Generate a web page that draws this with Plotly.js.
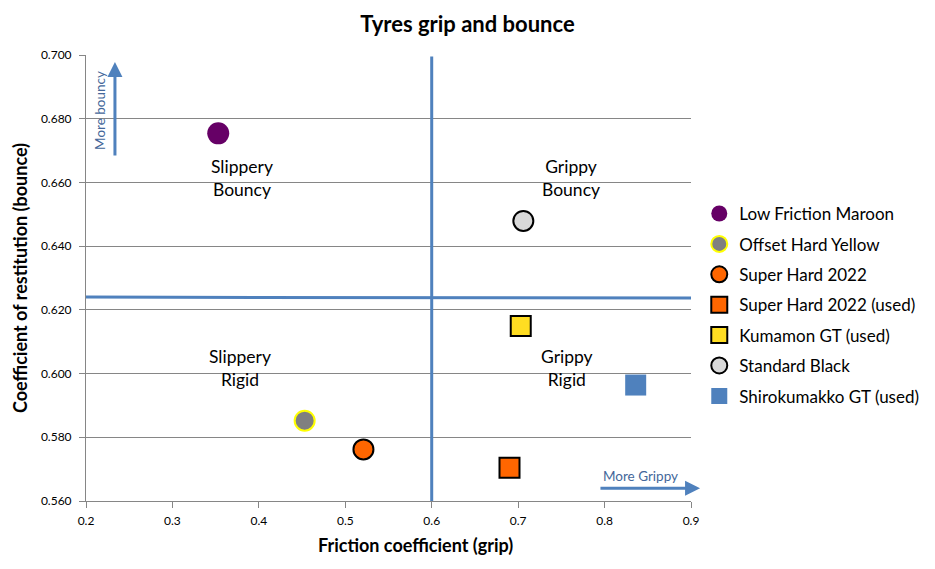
<!DOCTYPE html>
<html>
<head>
<meta charset="utf-8">
<script src="https://cdn.plot.ly/plotly-3.0.1.min.js"></script>
<style>html,body{margin:0;padding:0;background:#fff;}#chart{width:935px;height:569px;}</style>
</head>
<body>
<div id="chart"></div>
<script>
// Data
const seriesNames = ["Low Friction Maroon","Offset Hard Yellow","Super Hard 2022","Super Hard 2022 (used)","Kumamon GT (used)","Standard Black","Shirokumakko GT (used)"];
const frictionValues = [0.353, 0.453, 0.521, 0.690, 0.703, 0.706, 0.836];
const bounceValues = [0.6754, 0.5852, 0.5762, 0.5704, 0.6149, 0.6479, 0.5964];
const markerSymbols = ["circle","circle","circle","square","square","circle","square"];
const markerFills = ["#660066","#808080","#FF6600","#FF6600","#FFDD22","#D9D9D9","#4F81BD"];
const markerLines = ["#660066","#FFFF00","#000000","#000000","#000000","#000000","#4F81BD"];
const markerLineWidths = [0, 2, 2, 2, 2, 2, 0];
const markerSizes = [22, 20, 20, 20, 20, 20, 21];
const xTickValues = [0.2,0.3,0.4,0.5,0.6,0.7,0.8,0.9];
const yTickValues = [0.56,0.58,0.60,0.62,0.64,0.66,0.68,0.70];
const quadrantFriction = 0.6;
const quadrantBounce = 0.624;
const quadrantLabels = ["Slippery<br>Bouncy","Grippy<br>Bouncy","Slippery<br>Rigid","Grippy<br>Rigid"];
const quadrantLabelX = [0.381, 0.761, 0.378, 0.757];
const quadrantLabelY = [0.6615, 0.6615, 0.6016, 0.6016];

const FONT = "Lato, 'Open Sans', sans-serif";
const BLUE = "#4F81BD";

const traces = seriesNames.map((n, i) => ({
  type: "scatter", mode: "markers", name: n,
  x: [frictionValues[i]], y: [bounceValues[i]],
  legendgroup: "g" + i,
  marker: {symbol: markerSymbols[i], color: markerFills[i], size: markerSizes[i],
           line: {color: markerLines[i], width: markerLineWidths[i]}},
  hoverinfo: "name+x+y"
}));

const annotations = quadrantLabels.map((t, i) => ({
  text: t, x: quadrantLabelX[i], y: quadrantLabelY[i], xref: "x", yref: "y",
  showarrow: false, font: {family: FONT, size: 17.5, color: "#000"}, align: "center"
}));
annotations.push({
  x: 0.2335, y: 0.6978, ax: 0.2335, ay: 0.668, xref: "x", yref: "y", axref: "x", ayref: "y",
  showarrow: true, arrowhead: 2, arrowsize: 1, arrowwidth: 3, arrowcolor: BLUE, text: ""
});
annotations.push({
  x: 0.216, y: 0.6827, xref: "x", yref: "y", text: "More bouncy", textangle: -90,
  showarrow: false, font: {family: FONT, size: 13.5, color: "#44679A"}
});
annotations.push({
  x: 0.9105, y: 0.564, ax: 0.7935, ay: 0.564, xref: "x", yref: "y", axref: "x", ayref: "y",
  showarrow: true, arrowhead: 2, arrowsize: 1, arrowwidth: 3, arrowcolor: BLUE, text: ""
});
annotations.push({
  x: 0.841, y: 0.5678, xref: "x", yref: "y", text: "More Grippy",
  showarrow: false, font: {family: FONT, size: 13.5, color: "#44679A"}
});
annotations.push({
  x: 0.5446, y: -0.099, xref: "paper", yref: "paper", text: "<b>Friction coefficient (grip)</b>",
  showarrow: false, font: {family: FONT, size: 18, color: "#000"}, yanchor: "middle"
});

const layout = {
  width: 935, height: 569,
  margin: {l: 86, r: 243, t: 55, b: 68},
  paper_bgcolor: "#fff", plot_bgcolor: "#fff",
  font: {family: FONT, color: "#000"},
  title: {text: "<b>Tyres grip and bounce</b>", x: 0.5, xref: "container", y: 1 - 24/569, yref: "container",
          yanchor: "middle", font: {family: FONT, size: 22, color: "#000"}},
  xaxis: {range: [0.2, 0.9], tickvals: xTickValues, tickformat: ".1f", showgrid: false, zeroline: false,
          showline: true, linecolor: "#868686", linewidth: 1, ticks: "outside", ticklen: 6, tickcolor: "#868686",
          ticklabelstandoff: 3,
          tickfont: {family: FONT, size: 12, color: "#000"}},
  yaxis: {range: [0.56, 0.70], tickvals: yTickValues, tickformat: ".3f", showgrid: true, gridcolor: "#868686",
          gridwidth: 1, zeroline: false, showline: true, linecolor: "#868686", linewidth: 1,
          ticks: "outside", ticklen: 6, tickcolor: "#868686", ticklabelstandoff: 5,
          tickfont: {family: FONT, size: 12, color: "#000"},
          title: {text: "<b>Coefficient of restitution (bounce)</b>", standoff: 8,
                  font: {family: FONT, size: 18, color: "#000"}}},
  shapes: [
    {type: "line", xref: "x", yref: "y", x0: quadrantFriction, x1: quadrantFriction, y0: 0.56, y1: 0.6995,
     line: {color: BLUE, width: 3}},
    {type: "line", xref: "x", yref: "y", x0: 0.2, x1: 0.9, y0: quadrantBounce, y1: quadrantBounce - 0.0003,
     line: {color: BLUE, width: 3}}
  ],
  legend: {x: 1.012, xanchor: "left", y: 0.684, yanchor: "top", tracegroupgap: 5.3,
           font: {family: FONT, size: 17, color: "#000"}, bgcolor: "rgba(0,0,0,0)"},
  showlegend: true,
  annotations: annotations
};

Plotly.newPlot("chart", traces, layout, {displayModeBar: false, staticPlot: true});
</script>
</body>
</html>
